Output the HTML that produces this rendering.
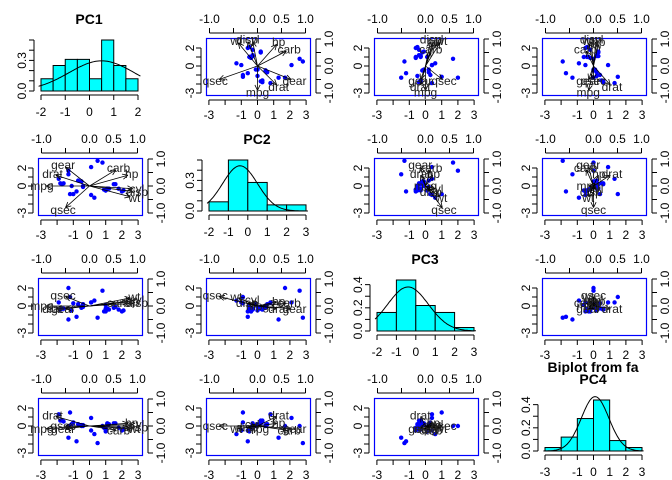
<!DOCTYPE html>
<html><head><meta charset="utf-8"><style>
html,body{margin:0;padding:0;background:#fff}
svg{display:block;font-family:"Liberation Sans",Arial,sans-serif}
</style></head><body>
<svg id="chart" width="672" height="480" viewBox="0 0 672 480" xmlns="http://www.w3.org/2000/svg"></svg>
<script>
// ---- data ----
const varNames = ["mpg","cyl","disp","hp","drat","wt","qsec","gear","carb"];
const load1 = [-0.9,0.9,0.9,0.8,-0.7,0.85,-0.5,-0.5,0.55];
const load2 = [0.0,-0.1,-0.2,0.4,0.4,-0.4,-0.8,0.7,0.6];
const load3 = [0.0,0.2,0.1,0.15,-0.1,0.3,0.35,-0.1,0.1];
const load4 = [-0.1,0.05,-0.05,0.1,0.35,-0.1,0.0,-0.1,-0.15];
const score1 = [-0.5,-0.5,-1.1,0.1,1.0,0.3,1.5,-1.0,-1.2,-0.4,-0.4,1.2,1.1,1.1,2.0,2.1,1.8,-1.6,-1.9,-1.8,-0.8,1.0,0.9,1.6,1.0,-1.7,-1.3,-1.3,0.5,0.1,0.8,-0.7];
const score2 = [0.5,0.5,0.0,-1.0,-0.5,-1.3,0.2,-0.9,-0.9,0.0,-0.1,-0.3,-0.3,-0.3,-0.6,-0.5,-0.3,0.3,0.8,0.3,-0.6,-0.4,-0.4,0.2,-0.5,0.2,1.7,1.3,2.8,2.1,2.6,0.6];
const score3 = [-0.2,-0.1,-0.5,0.4,0.1,0.6,-0.2,0.3,1.0,-0.1,0.2,-0.4,-0.3,-0.3,-0.6,-0.5,-0.4,-0.3,0.4,-0.4,-1.2,-0.6,-0.6,-0.1,-0.3,-0.3,2.0,-1.5,-1.3,0.4,1.7,0.2];
const score4 = [0.0,0.1,0.2,-0.5,-0.6,-0.9,0.3,0.4,1.5,0.1,0.0,0.2,0.3,0.2,-0.5,-0.4,-0.2,0.5,1.3,0.6,-1.7,-0.3,-0.2,0.3,-0.4,0.6,0.0,-1.3,-1.9,0.9,0.0,0.2];
const histStart = [-2,-2,-2,-3];
const histWidth = [0.5,1,1,1];
const hist1 = [0.12,0.25,0.31,0.31,0.12,0.5,0.25,0.12];
const hist2 = [0.09,0.5,0.28,0.06,0.06];
const hist3 = [0.16,0.44,0.22,0.16,0.03];
const hist4 = [0.03,0.12,0.28,0.44,0.09,0.03];
const densMean = [0.5,-0.4,-0.4,0.1];
const densSd = [1.35,0.9,1.05,0.85];
const xTicks = [-3,-2,-1,0,1,2,3];
const xTickLabels = ["-3","","-1","0","1","2","3"];
const topTicks = [-1,-0.5,0,0.5,1];
const topTickLabels = ["-1.0","","0.0","0.5","1.0"];
const leftTicks = [-3,-2,-1,0,1,2];
const leftTickLabels = ["-3","","","0","","2"];
const rightTicks = [-1,-0.5,0,0.5,1];
const rightTickLabels = ["-1.0","","0.0","","1.0"];

const loads=[load1,load2,load3,load4], scores=[score1,score2,score3,score4], hists=[hist1,hist2,hist3,hist4];
const svg=document.getElementById('chart');
const NS="http://www.w3.org/2000/svg";
const FS=12;
function mk(tag,attrs,parent){const e=document.createElementNS(NS,tag);for(const k in attrs)e.setAttribute(k,attrs[k]);(parent||svg).appendChild(e);return e;}
function txt(s,x,y,size,parent,extra){const t=mk('text',Object.assign({x:x,y:y,'font-size':size,'text-anchor':'middle',fill:'#000'},extra||{}),parent);t.textContent=s;return t;}

for(let r=0;r<4;r++){for(let c=0;c<4;c++){
  const ox=168*c, oy=120*r;
  const g=mk('g',{transform:`translate(${ox},${oy})`});
  if(r===c){
    
    
    const h=hists[r], s0=histStart[r], w=histWidth[r];
    const xmin=s0, xmax=s0+w*h.length;
    const ymax=Math.max(...h);
    const X=v=>41+(v-xmin)/(xmax-xmin)*97;
    const Y=v=>91-v/ymax*51;
    h.forEach((v,i)=>{
      const b=mk('rect',{x:X(s0+i*w),y:Y(v),width:X(s0+(i+1)*w)-X(s0+i*w),height:91-Y(v),fill:'#00ffff',stroke:'#000','stroke-width':1},g);
      
      
    });
    let d='';
    for(let k=0;k<=80;k++){const xv=xmin-0.1+(xmax-xmin+0.2)*k/80;const yv=Math.exp(-0.5*((xv-densMean[r])/densSd[r])**2)/(densSd[r]*Math.sqrt(2*Math.PI));d+=(k?'L':'M')+X(xv).toFixed(1)+','+Y(yv).toFixed(1);}
    const dc=mk('path',{d:d,fill:'none',stroke:'#000','stroke-width':1},g);
    
    
    mk('line',{x1:X(xmin),x2:X(xmax),y1:95,y2:95,stroke:'#000'},g);
    for(let v=xmin;v<=xmax+1e-9;v+=1){mk('line',{x1:X(v),x2:X(v),y1:95,y2:100,stroke:'#000'},g);if(!(r===3&&v===-2))txt(String(v),X(v),116,FS,g);}
    const lastTick=Math.floor(ymax*10+1e-9)/10;
    mk('line',{x1:34,x2:34,y1:Y(0),y2:Y(lastTick),stroke:'#000'},g);
    for(let v=0;v<=lastTick+1e-9;v+=0.1){mk('line',{x1:29,x2:34,y1:Y(v),y2:Y(v),stroke:'#000'},g);}
    const labs=(r===0||r===1)?[0,0.3]:[0,0.2,0.4];
    labs.forEach(v=>txt(v.toFixed(1),22,Y(v)+4,FS,g,{transform:`rotate(-90 22 ${Y(v)})`}));
    const tt=txt('PC'+(r+1),89,24,14,g,{'font-weight':'bold'});
    
    
    if(r===3){const t2=txt('Biplot from fa',89,12,14,g,{'font-weight':'bold'});
      
      }
  } else {
    
    
    const X=v=>89.5+v*16.2, Y=v=>66-v*9;
    const XL=v=>89.5+v*48, YL=v=>66-v*27;
    const box=mk('rect',{x:38.5,y:38.5,width:104,height:57,fill:'none',stroke:'#0000ff','stroke-width':1.2},g);
    
    
    mk('line',{x1:X(-3),x2:X(3),y1:100,y2:100,stroke:'#000'},g);
    xTicks.forEach((v,i)=>{mk('line',{x1:X(v),x2:X(v),y1:100,y2:105,stroke:'#000'},g);if(xTickLabels[i])txt(xTickLabels[i],X(v),119,FS,g);});
    mk('line',{x1:XL(-1),x2:XL(1),y1:33,y2:33,stroke:'#000'},g);
    topTicks.forEach((v,i)=>{mk('line',{x1:XL(v),x2:XL(v),y1:28,y2:33,stroke:'#000'},g);if(topTickLabels[i])txt(topTickLabels[i],XL(v),23,FS,g);});
    mk('line',{x1:33,x2:33,y1:Y(-3),y2:Y(2),stroke:'#000'},g);
    leftTicks.forEach((v,i)=>{mk('line',{x1:28,x2:33,y1:Y(v),y2:Y(v),stroke:'#000'},g);if(leftTickLabels[i])txt(leftTickLabels[i],22,Y(v)+4,FS,g,{transform:`rotate(-90 22 ${Y(v)})`});});
    mk('line',{x1:148,x2:148,y1:YL(-1),y2:YL(1),stroke:'#000'},g);
    rightTicks.forEach((v,i)=>{mk('line',{x1:148,x2:153,y1:YL(v),y2:YL(v),stroke:'#000'},g);if(rightTickLabels[i])txt(rightTickLabels[i],161,YL(v)+4,FS,g,{transform:`rotate(-90 161 ${YL(v)})`});});
    const sx=scores[c], sy=scores[r];
    sx.forEach((v,i)=>{const p=mk('circle',{cx:X(v),cy:Y(sy[i]),r:2.2,fill:'#0000ff'},g);
      
      });
    const lx=loads[c], ly=loads[r];
    varNames.forEach((nm,i)=>{
      const x2=XL(lx[i]), y2=YL(ly[i]), x1=XL(0), y1=YL(0);
      const a=mk('line',{x1:x1,y1:y1,x2:x2,y2:y2,stroke:'#000','stroke-width':0.8},g);
      
      
      const ang=Math.atan2(y2-y1,x2-x1);
      if(Math.hypot(x2-x1,y2-y1)>3){
        [0.45,-0.45].forEach(d=>mk('line',{x1:x2,y1:y2,x2:x2-6*Math.cos(ang+d),y2:y2-6*Math.sin(ang+d),stroke:'#000','stroke-width':0.8},g));
      }
      const lt=txt(nm,XL(lx[i]*1.1),YL(ly[i]*1.1)+4,FS,g,{fill:'#222'});
      
      
    });
  }
}}
</script>
</body></html>
